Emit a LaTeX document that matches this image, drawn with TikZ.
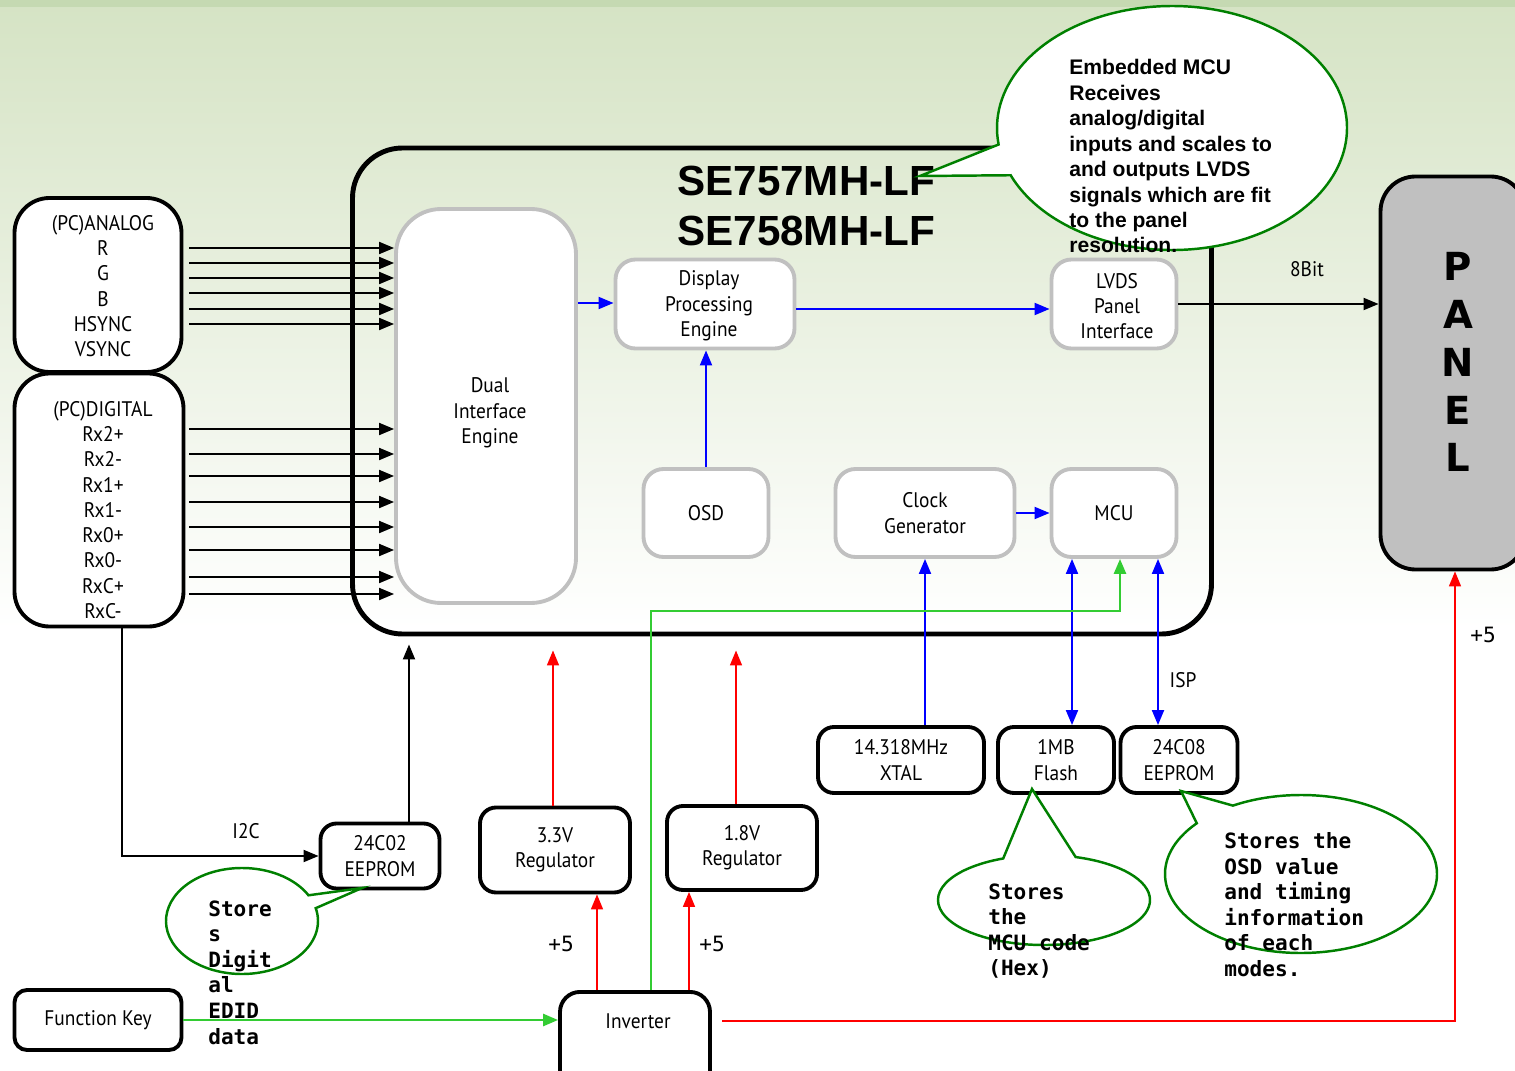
\documentclass[tikz,border=0pt]{standalone}
\usepackage{fontspec}
\setmainfont{PT Sans}[FakeStretch=0.92]
\newfontfamily\titlefont{Liberation Sans}
\newfontfamily\notefont{DejaVu Sans Mono}
\newfontfamily\panelfont{DejaVu Sans}
\usepackage{xcolor}
\usetikzlibrary{arrows.meta}
\usetikzlibrary{shapes.callouts}

\definecolor{bgtop}{RGB}{213,227,196}
\definecolor{bgband}{RGB}{197,217,178}
\definecolor{boxgray}{RGB}{192,192,192}
\definecolor{sigblue}{RGB}{0,0,255}
\definecolor{sigred}{RGB}{255,0,0}
\definecolor{siggreen}{RGB}{51,204,51}
\definecolor{notegreen}{RGB}{0,128,0}

\begin{document}
\begin{tikzpicture}[
  x=0.02cm, y=-0.02cm,
  every node/.style={font=\fontsize{12}{14.4}\selectfont, align=center},
  sz/.style 2 args={minimum width=#1*0.02cm, minimum height=#2*0.02cm, inner sep=0pt},
  blkbox/.style={draw, line width=2.2pt, fill=white, rounded corners=0.32cm},
  grybox/.style={draw=boxgray, line width=2.2pt, fill=white, rounded corners=0.4cm},
  sig/.style={->, line width=1.1pt},
  bluesig/.style={->, sigblue, line width=1.1pt},
  redsig/.style={->, sigred, line width=0.9pt},
  grnsig/.style={->, siggreen, line width=1.5pt},
  bubble/.style={ellipse callout, draw=notegreen, line width=1.4pt, fill=white, inner sep=0pt},
  note/.style={font=\notefont\bfseries\fontsize{12}{14.6}\selectfont, align=left, anchor=north west, inner sep=0pt},
  plus/.style={font=\notefont\fontsize{12}{14.6}\selectfont},
  panelchar/.style={font=\panelfont\bfseries\fontsize{22}{26}\selectfont},
]
\tikzset{>={Triangle[length=0.3cm, width=0.24cm]}}

% Background
\useasboundingbox (0,0) rectangle (1515,1071);
\fill[white] (0,0) rectangle (1515,1071);
\fill[top color=bgtop, bottom color=white] (0,0) rectangle (1515,630);
\fill[bgband] (0,0) rectangle (1515,7);

% Chip outline and title
\node[draw, line width=2.8pt, rounded corners=1cm, sz={859}{486}] (chip) at (782,391) {};
\node[font=\titlefont\bfseries\fontsize{24}{29}\selectfont, align=left, anchor=west, inner sep=0pt]
  (title) at (677,206) {SE757MH-LF\\SE758MH-LF};

% Input connectors
\node[blkbox, rounded corners=0.7cm, sz={167}{174}] (analog) at (98,285) {};
\node (anlbl) at (103,286) {(PC)ANALOG\\R\\G\\B\\HSYNC\\VSYNC};
\node[blkbox, rounded corners=0.7cm, sz={169}{253}] (digital) at (99,500) {};
\node (diglbl) at (103,510) {(PC)DIGITAL\\Rx2+\\Rx2-\\Rx1+\\Rx1-\\Rx0+\\Rx0-\\RxC+\\RxC-};

% Engine blocks
\node[grybox, rounded corners=0.9cm, sz={180}{394}] (dual) at (486,406) {};
\node (duallbl) at (490,413) {Dual\\Interface\\Engine};
\node[grybox, sz={179}{89}] (dpe)  at (705,304)  {};
\node (dpelbl) at (709,306) {Display\\Processing\\Engine};
\node[grybox, sz={125}{89}] (lvds) at (1114,304) {};
\node (lvdslbl) at (1117,306) {LVDS\\Panel\\Interface};
\node[grybox, sz={125}{88}] (osd)  at (706,513)  {OSD};
\node[grybox, sz={179}{88}] (clk)  at (925,513)  {Clock\\Generator};
\node[grybox, sz={125}{88}] (mcu)  at (1114,513) {MCU};

% Panel
\node[draw, fill=boxgray, line width=2.2pt, rounded corners=0.7cm, sz={145}{393}] (panel) at (1453,373) {};
\node[panelchar] (pnlP) at (1458,266) {P};
\node[panelchar] (pnlA) at (1458,314) {A};
\node[panelchar] (pnlN) at (1458,362) {N};
\node[panelchar] (pnlE) at (1458,410) {E};
\node[panelchar] (pnlL) at (1458,457) {L};

% External parts
\node[blkbox, sz={166}{66}] (xtal)  at (901,760)  {14.318MHz\\XTAL};
\node[blkbox, sz={116}{66}] (flash) at (1056,760) {1MB\\Flash};
\node[blkbox, sz={117}{66}] (eepb)  at (1179,760) {24C08\\EEPROM};
\node[blkbox, sz={119}{65}] (eepa)  at (380,856)  {24C02\\EEPROM};
\node[blkbox, sz={150}{85}] (regA)  at (555,850)  {3.3V\\Regulator};
\node[blkbox, sz={150}{84}] (regB)  at (742,848)  {1.8V\\Regulator};
\node[blkbox, rounded corners=0.4cm, sz={150}{110}, anchor=north] (inv) at (635,990) {};
\node (invlbl) at (638,1021) {Inverter};
\node[blkbox, rounded corners=0.25cm, sz={167}{60}] (fkey) at (98,1020) {Function Key};

% Analog inputs
\draw[sig, shorten <=0.12cm] (analog.east |- 0,248) -- (dual.west |- 0,248);
\draw[sig, shorten <=0.12cm] (analog.east |- 0,263) -- (dual.west |- 0,263);
\draw[sig, shorten <=0.12cm] (analog.east |- 0,278) -- (dual.west |- 0,278);
\draw[sig, shorten <=0.12cm] (analog.east |- 0,293) -- (dual.west |- 0,293);
\draw[sig, shorten <=0.12cm] (analog.east |- 0,309) -- (dual.west |- 0,309);
\draw[sig, shorten <=0.12cm] (analog.east |- 0,324) -- (dual.west |- 0,324);

% Digital inputs
\draw[sig, shorten <=0.08cm] (digital.east |- 0,429) -- (dual.west |- 0,429);
\draw[sig, shorten <=0.08cm] (digital.east |- 0,454) -- (dual.west |- 0,454);
\draw[sig, shorten <=0.08cm] (digital.east |- 0,476) -- (dual.west |- 0,476);
\draw[sig, shorten <=0.08cm] (digital.east |- 0,502) -- (dual.west |- 0,502);
\draw[sig, shorten <=0.08cm] (digital.east |- 0,527) -- (dual.west |- 0,527);
\draw[sig, shorten <=0.08cm] (digital.east |- 0,550) -- (dual.west |- 0,550);
\draw[sig, shorten <=0.08cm] (digital.east |- 0,577) -- (dual.west |- 0,577);
\draw[sig, shorten <=0.08cm] (digital.east |- 0,594) -- (dual.west |- 0,594);

% I2C and output
\draw[sig] (digital.south -| 122,0) |- (eepa.west);
\node (i2c) at (246,831) {I2C};
\draw[sig, shorten >=0.16cm] (eepa.north -| 409,0) -- (chip.south -| 409,0);
\draw[sig] (lvds.east) -- (lvds.east -| panel.west);
\node (bits) at (1307,269) {8Bit};

% Internal data paths
\draw[bluesig] (dual.east |- 0,303) -- (dpe.west |- 0,303);
\draw[bluesig] (dpe.east |- 0,309) -- (lvds.west |- 0,309);
\draw[bluesig] (osd.north) -- (osd.north |- dpe.south);
\draw[bluesig] (clk.east) -- (mcu.west);
\draw[bluesig] (xtal.north -| clk.south) -- (clk.south);
\draw[bluesig, <->] (flash.north -| 1072,0) -- (mcu.south -| 1072,0);
\draw[bluesig, <->] (eepb.north -| 1158,0) -- (mcu.south -| 1158,0);
\node (isp) at (1183,680) {ISP};

% Key and inverter control
\coordinate (gturn) at (1120,611);
\draw[grnsig] (inv.north -| 651,0) |- (gturn) -- (gturn |- mcu.south);
\draw[grnsig] (fkey.east) -- (fkey.east -| inv.west);

% Power
\draw[redsig, shorten >=0.28cm] (regA.north -| 553,0) -- (chip.south -| 553,0);
\draw[redsig, shorten >=0.28cm] (regB.north -| 736,0) -- (chip.south -| 736,0);
\draw[redsig] (inv.north -| 597,0) -- (regA.south -| 597,0);
\draw[redsig] (inv.north -| 689,0) -- (regB.south -| 689,0);
\draw[redsig] (invlbl -| 722,0) -| (panel.south -| 1455,0);
\node[plus] (pwrA) at (561,944) {+5};
\node[plus] (pwrB) at (712,944) {+5};
\node[plus] (pwrC) at (1483,635) {+5};

% Callouts
\node[bubble, sz={350}{244}, callout absolute pointer={(920,176)}, callout pointer arc=15] (bubmcu) at (1172,128) {};
\node[bubble, sz={152}{106}, callout absolute pointer={(362,888)}, callout pointer arc=15] (bubedid) at (242,921) {};
\node[bubble, sz={212}{90}, callout absolute pointer={(1032,789)}, callout pointer arc=40] (bubflash) at (1044,900) {};
\node[bubble, sz={272}{158}, callout absolute pointer={(1181,791)}, callout pointer arc=20] (bubosd) at (1301,874) {};

\node[font=\titlefont\bfseries\fontsize{12}{14.5}\selectfont, align=left, anchor=north west, inner sep=0pt]
  (txtmcu) at (1069,59) {Embedded MCU\\Receives\\analog/digital\\inputs and scales to\\and outputs LVDS\\signals which are fit\\to the panel\\resolution.};
\node[note] (txtedid)  at (208,900)  {Store\\s\\Digit\\al\\EDID\\data};
\node[note] (txtflash) at (988,883)  {Stores\\the\\MCU code\\(Hex)};
\node[note] (txtosd)   at (1224,832) {Stores the\\OSD value\\and timing\\information\\of each\\modes.};

\end{tikzpicture}
\end{document}
